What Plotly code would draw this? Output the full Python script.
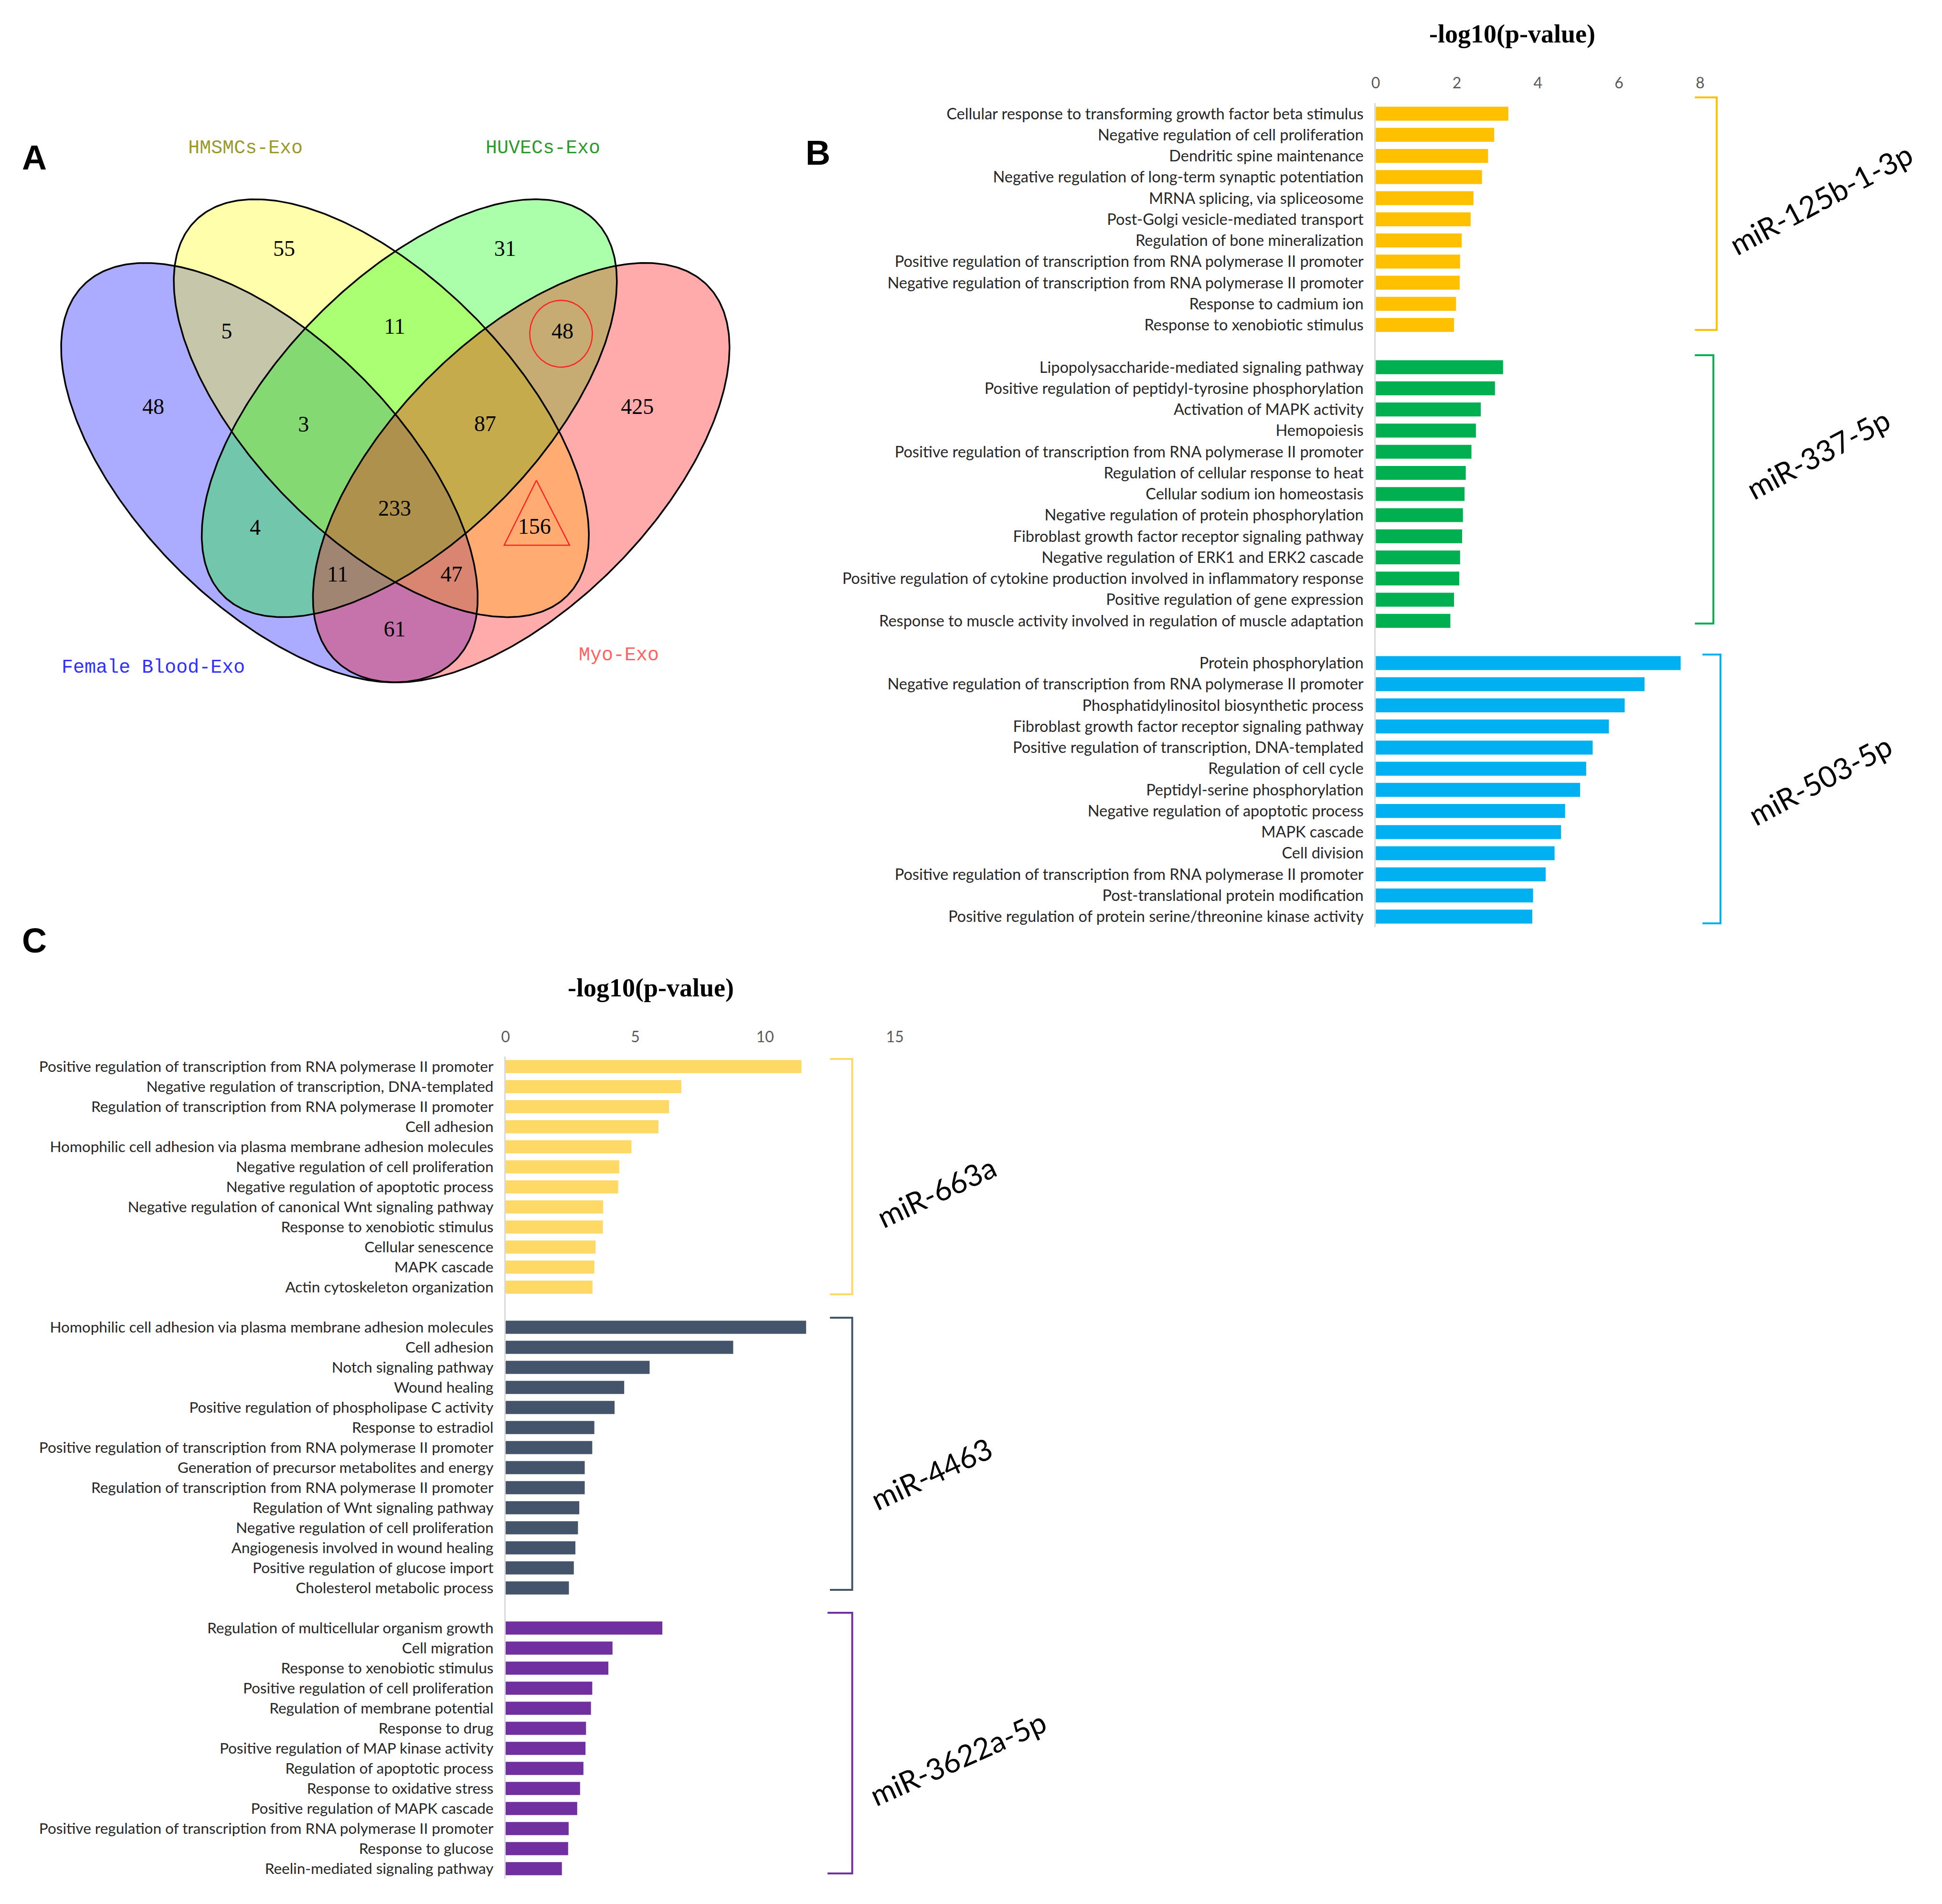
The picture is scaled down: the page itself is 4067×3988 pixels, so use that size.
import numpy as np
import plotly.graph_objects as go

W, H = 4067, 3988

# ----------------------------- DATA -----------------------------
# Venn diagram (panel A)
venn_sets = ["Female Blood-Exo", "HMSMCs-Exo", "HUVECs-Exo", "Myo-Exo"]
venn_regions = ["B", "Y", "G", "R", "BY", "YG", "GR", "BYG", "YGR",
                "BYGR", "BG", "YR", "BGR", "BYR", "BR"]
venn_counts = [48, 55, 31, 425, 5, 11, 48, 3, 87, 233, 4, 156, 11, 47, 61]

# Panel B
mir_b = ["miR-125b-1-3p", "miR-337-5p", "miR-503-5p"]
terms_b1 = [
    "Cellular response to transforming growth factor beta stimulus",
    "Negative regulation of cell proliferation",
    "Dendritic spine maintenance",
    "Negative regulation of long-term synaptic potentiation",
    "MRNA splicing, via spliceosome",
    "Post-Golgi vesicle-mediated transport",
    "Regulation of bone mineralization",
    "Positive regulation of transcription from RNA polymerase II promoter",
    "Negative regulation of transcription from RNA polymerase II promoter",
    "Response to cadmium ion",
    "Response to xenobiotic stimulus",
]
vals_b1 = [3.27, 2.92, 2.77, 2.62, 2.41, 2.34, 2.12, 2.08, 2.07, 1.98, 1.93]
terms_b2 = [
    "Lipopolysaccharide-mediated signaling pathway",
    "Positive regulation of peptidyl-tyrosine phosphorylation",
    "Activation of MAPK activity",
    "Hemopoiesis",
    "Positive regulation of transcription from RNA polymerase II promoter",
    "Regulation of cellular response to heat",
    "Cellular sodium ion homeostasis",
    "Negative regulation of protein phosphorylation",
    "Fibroblast growth factor receptor signaling pathway",
    "Negative regulation of ERK1 and ERK2 cascade",
    "Positive regulation of cytokine production involved in inflammatory response",
    "Positive regulation of gene expression",
    "Response to muscle activity involved in regulation of muscle adaptation",
]
vals_b2 = [3.14, 2.94, 2.59, 2.47, 2.36, 2.22, 2.19, 2.15, 2.13, 2.08, 2.06, 1.93, 1.84]
terms_b3 = [
    "Protein phosphorylation",
    "Negative regulation of transcription from RNA polymerase II promoter",
    "Phosphatidylinositol biosynthetic process",
    "Fibroblast growth factor receptor signaling pathway",
    "Positive regulation of transcription, DNA-templated",
    "Regulation of cell cycle",
    "Peptidyl-serine phosphorylation",
    "Negative regulation of apoptotic process",
    "MAPK cascade",
    "Cell division",
    "Positive regulation of transcription from RNA polymerase II promoter",
    "Post-translational protein modification",
    "Positive regulation of protein serine/threonine kinase activity",
]
vals_b3 = [7.52, 6.63, 6.14, 5.75, 5.35, 5.19, 5.04, 4.67, 4.57, 4.41, 4.19, 3.88, 3.86]

# Panel C
mir_c = ["miR-663a", "miR-4463", "miR-3622a-5p"]
terms_c1 = [
    "Positive regulation of transcription from RNA polymerase II promoter",
    "Negative regulation of transcription, DNA-templated",
    "Regulation of transcription from RNA polymerase II promoter",
    "Cell adhesion",
    "Homophilic cell adhesion via plasma membrane adhesion molecules",
    "Negative regulation of cell proliferation",
    "Negative regulation of apoptotic process",
    "Negative regulation of canonical Wnt signaling pathway",
    "Response to xenobiotic stimulus",
    "Cellular senescence",
    "MAPK cascade",
    "Actin cytoskeleton organization",
]
vals_c1 = [11.40, 6.77, 6.30, 5.89, 4.85, 4.38, 4.34, 3.76, 3.75, 3.47, 3.42, 3.35]
terms_c2 = [
    "Homophilic cell adhesion via plasma membrane adhesion molecules",
    "Cell adhesion",
    "Notch signaling pathway",
    "Wound healing",
    "Positive regulation of phospholipase C activity",
    "Response to estradiol",
    "Positive regulation of transcription from RNA polymerase II promoter",
    "Generation of precursor metabolites and energy",
    "Regulation of transcription from RNA polymerase II promoter",
    "Regulation of Wnt signaling pathway",
    "Negative regulation of cell proliferation",
    "Angiogenesis involved in wound healing",
    "Positive regulation of glucose import",
    "Cholesterol metabolic process",
]
vals_c2 = [11.58, 8.77, 5.55, 4.57, 4.20, 3.42, 3.34, 3.05, 3.05, 2.84, 2.79, 2.69, 2.63, 2.44]
terms_c3 = [
    "Regulation of multicellular organism growth",
    "Cell migration",
    "Response to xenobiotic stimulus",
    "Positive regulation of cell proliferation",
    "Regulation of membrane potential",
    "Response to drug",
    "Positive regulation of MAP kinase activity",
    "Regulation of apoptotic process",
    "Response to oxidative stress",
    "Positive regulation of MAPK cascade",
    "Positive regulation of transcription from RNA polymerase II promoter",
    "Response to glucose",
    "Reelin-mediated signaling pathway",
]
vals_c3 = [6.04, 4.12, 3.96, 3.34, 3.29, 3.10, 3.08, 3.00, 2.87, 2.76, 2.43, 2.41, 2.17]

ticks_b = [0, 2, 4, 6, 8]
ticks_c = [0, 5, 10, 15]

# ----------------------------- STYLE / LAYOUT -----------------------------
colors_b = ["#FFC000", "#00B050", "#00B0F0"]
colors_c = ["#FFD966", "#44546A", "#7030A0"]
LABEL_FONT_B = dict(family="Lato", size=32.5, color="#262626")
LABEL_FONT_C = dict(family="Lato", size=31.5, color="#262626")
TICK_FONT = dict(family="Lato", size=32, color="#595959")
TITLE_FONT = dict(family="Liberation Serif", size=54, color="#000000")
MIR_FONT = dict(family="Lato", size=62, color="#000000")


def px(x):
    return x / W


def py(y):
    return 1 - y / H


fig = go.Figure()


def add_bar_panel(groups, vals, colors, xa, ya):
    rows, labels = [], []
    start = 0
    for g, v, c in zip(groups, vals, colors):
        r = list(range(start, start + len(g)))
        fig.add_trace(go.Bar(x=v, y=r, orientation="h", marker=dict(color=c, line_width=0),
                             width=0.66, xaxis=xa, yaxis=ya, showlegend=False))
        rows += r
        labels += g
        start += len(g) + 1
    return rows, labels, rows[-1]


rows_b, labels_b, nb = add_bar_panel([terms_b1, terms_b2, terms_b3],
                                     [vals_b1, vals_b2, vals_b3], colors_b, "x", "y")
rows_c, labels_c, nc = add_bar_panel([terms_c1, terms_c2, terms_c3],
                                     [vals_c1, vals_c2, vals_c3], colors_c, "x2", "y2")

# ---- Venn ellipses (positions in pixel space of panel A axis) ----
venn_shapes = [  # cx, cy, a, b, angle(deg), fill
    (561, 987, 555, 279, 45, "rgba(0,0,255,0.33)"),
    (797, 852, 555, 274, 45, "rgba(255,255,0,0.33)"),
    (856, 852, 555, 274, -45, "rgba(0,255,0,0.33)"),
    (1092, 987, 555, 279, -45, "rgba(255,0,0,0.33)"),
]
t = np.linspace(0, 2 * np.pi, 400)


def ellipse(cx, cy, a, b, ang):
    th = np.deg2rad(ang)
    x = cx + a * np.cos(th) * np.cos(t) - b * np.sin(th) * np.sin(t)
    y = cy + a * np.sin(th) * np.cos(t) + b * np.cos(th) * np.sin(t)
    return x, y


for cx, cy, a, b, ang, fc in venn_shapes:
    ex, ey = ellipse(cx, cy, a, b, ang)
    fig.add_trace(go.Scatter(x=ex, y=ey, mode="lines", fill="toself", fillcolor=fc,
                             line=dict(width=0), xaxis="x3", yaxis="y3",
                             showlegend=False, hoverinfo="skip"))
for cx, cy, a, b, ang, fc in venn_shapes:
    ex, ey = ellipse(cx, cy, a, b, ang)
    fig.add_trace(go.Scatter(x=ex, y=ey, mode="lines", line=dict(color="black", width=3.5),
                             xaxis="x3", yaxis="y3", showlegend=False, hoverinfo="skip"))

region_pos = {
    "B": (316, 852), "Y": (592, 521), "G": (1058, 521), "R": (1337, 852),
    "BY": (471, 694), "YG": (825, 684), "GR": (1179, 694), "BYG": (633, 889),
    "YGR": (1016, 888), "BYGR": (825, 1065), "BG": (531, 1105), "YR": (1120, 1103),
    "BGR": (705, 1203), "BYR": (945, 1203), "BR": (825, 1318),
}
fig.add_trace(go.Scatter(
    x=[region_pos[r][0] for r in venn_regions],
    y=[region_pos[r][1] for r in venn_regions],
    text=[str(c) for c in venn_counts], mode="text",
    textfont=dict(family="Liberation Serif", size=46, color="black"),
    xaxis="x3", yaxis="y3", showlegend=False, hoverinfo="skip"))

# highlight marks around two region counts
gx, gy = region_pos["GR"]
cc = np.linspace(0, 2 * np.pi, 200)
fig.add_trace(go.Scatter(x=gx - 3 + 66 * np.cos(cc), y=gy + 2 + 70 * np.sin(cc), mode="lines",
                         line=dict(color="#FF2020", width=2.5), xaxis="x3", yaxis="y3",
                         showlegend=False, hoverinfo="skip"))
tx, ty = region_pos["YR"]
fig.add_trace(go.Scatter(x=[tx + 4, tx - 64, tx + 74, tx + 4], y=[ty - 100, ty + 36, ty + 36, ty - 100],
                         mode="lines", line=dict(color="#FF2020", width=2.5), xaxis="x3", yaxis="y3",
                         showlegend=False, hoverinfo="skip"))

set_label_pos = [(316, 1395, "#3030FF"), (510, 307, "#9A9A2A"), (1138, 307, "#2E9A2E"), (1298, 1369, "#FF6262")]

annotations = []
for name, (lx, ly, col) in zip(venn_sets, set_label_pos):
    annotations.append(dict(x=lx, y=ly, xref="x3", yref="y3", text=name, showarrow=False,
                            xanchor="center", yanchor="middle",
                            font=dict(family="Liberation Mono", size=40, color=col)))

# panel letters
for letter, (lx, ly) in zip(["A", "B", "C"], [(55, 322), (1708, 312), (55, 1962)]):
    annotations.append(dict(x=px(lx), y=py(ly), xref="paper", yref="paper", text="<b>%s</b>" % letter,
                            showarrow=False, xanchor="center", yanchor="middle",
                            font=dict(family="Liberation Sans", size=72, color="black")))

# axis titles
for (tx_, ty_) in [(3172, 63), (1355, 2061)]:
    annotations.append(dict(x=px(tx_), y=py(ty_), xref="paper", yref="paper",
                            text="<b>-log10(p-value)</b>", showarrow=False,
                            xanchor="center", yanchor="middle", font=TITLE_FONT))

# miR labels
for name, (mx, my), ang in zip(mir_b + mir_c,
                               [(3823, 408), (3817, 942), (3821, 1625),
                                (1957, 2488), (1947, 3078), (2003, 3674)],
                               [-28, -28, -28, -25, -25, -24]):
    annotations.append(dict(x=px(mx), y=py(my), xref="paper", yref="paper", text=name, textangle=ang,
                            showarrow=False, font=MIR_FONT, xanchor="center", yanchor="middle"))

# brackets (pixel positions)
brackets = [
    (3557, 3603, 196, 683, colors_b[0]),
    (3557, 3596, 736, 1298, colors_b[1]),
    (3573, 3611, 1363, 1926, colors_b[2]),
    (1733, 1780, 2210, 2703, colors_c[0]),
    (1733, 1780, 2752, 3322, colors_c[1]),
    (1728, 1780, 3370, 3916, colors_c[2]),
]
shapes = []
for x0, x1, y0, y1, col in brackets:
    path = "M %f,%f L %f,%f L %f,%f L %f,%f" % (px(x0), py(y0), px(x1), py(y0), px(x1), py(y1), px(x0), py(y1))
    shapes.append(dict(type="path", path=path, xref="paper", yref="paper",
                       line=dict(color=col, width=4)))

fig.update_layout(
    width=W, height=H, autosize=False,
    margin=dict(l=0, r=0, t=0, b=0),
    paper_bgcolor="white", plot_bgcolor="rgba(0,0,0,0)",
    showlegend=False,
    annotations=annotations, shapes=shapes,
    xaxis=dict(domain=[px(2884), px(3568)], range=[0, 8], side="top", tickvals=ticks_b,
               showgrid=False, zeroline=False, showline=False, ticks="", tickfont=TICK_FONT,
               ticklabelstandoff=24, anchor="y", fixedrange=True),
    yaxis=dict(domain=[py(1934), py(208)], range=[nb + 0.5, -0.5], tickvals=rows_b, ticktext=labels_b,
               showgrid=False, zeroline=False, showline=True, linecolor="#D9D9D9", linewidth=3,
               ticks="", tickfont=LABEL_FONT_B, ticklabelstandoff=16, anchor="x", fixedrange=True),
    xaxis2=dict(domain=[px(1049), px(1870)], range=[0, 15], side="top", tickvals=ticks_c,
                showgrid=False, zeroline=False, showline=False, ticks="", tickfont=TICK_FONT,
                ticklabelstandoff=23, anchor="y2", fixedrange=True),
    yaxis2=dict(domain=[py(3927), py(2205)], range=[nc + 0.5, -0.5], tickvals=rows_c, ticktext=labels_c,
                showgrid=False, zeroline=False, showline=True, linecolor="#D9D9D9", linewidth=3,
                ticks="", tickfont=LABEL_FONT_C, ticklabelstandoff=16, anchor="x2", fixedrange=True),
    xaxis3=dict(domain=[0, px(1700)], range=[10, 1710], visible=False, anchor="y3", fixedrange=True),
    yaxis3=dict(domain=[py(1500), py(250)], range=[1505, 255], visible=False, anchor="x3", fixedrange=True),
)

fig.write_html("out.html")
